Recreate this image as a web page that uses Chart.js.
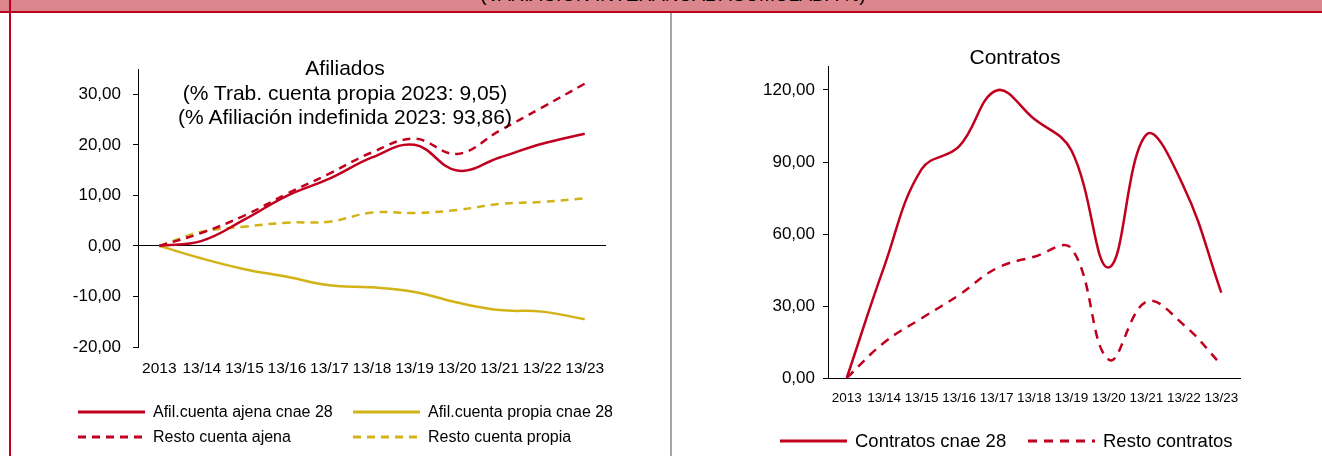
<!DOCTYPE html>
<html>
<head>
<meta charset="utf-8">
<script src="https://cdn.jsdelivr.net/npm/chart.js@4/dist/chart.umd.min.js"></script>
<style>
  html, body { margin: 0; padding: 0; background: #fff; }
  #page { position: relative; width: 1322px; height: 456px; overflow: hidden; background: #fff; font-family: "Liberation Sans", Arial, sans-serif; color: #000; }
  #band { position: absolute; left: 0; top: 0; width: 1322px; height: 11px; background: #DB868C; overflow: hidden; }
  #band span { position: absolute; left: 0; width: 1346px; top: -15px; text-align: center; font-size: 19px; line-height: 19px; }
  #bandLine { position: absolute; left: 0; top: 11px; width: 1322px; height: 2px; background: #B8001C; }
  #leftBorder { position: absolute; left: 9px; top: 0; width: 2px; height: 456px; background: #C0001E; }
  #divider { position: absolute; left: 670px; top: 13px; width: 2px; height: 443px; background: #A6A6A6; }
  canvas { position: absolute; }
  .title { position: absolute; text-align: center; font-size: 21px; line-height: 24.5px; }
  .item { position: absolute; white-space: nowrap; display: flex; align-items: center; }
  .item svg { margin-right: 8px; }
</style>
</head>
<body>
<div id="page">
  <div id="band"><span>(VARIACIÓN INTERANUAL ACUMULADA %)</span></div>
  <div id="bandLine"></div>
  <div id="leftBorder"></div>
  <div id="divider"></div>
  <canvas id="afiliadosChart" width="656" height="442" style="left:12px; top:14px;"></canvas>
  <canvas id="contratosChart" width="648" height="442" style="left:674px; top:14px;"></canvas>
  <div class="title" style="left:135px; top:56px; width:420px;">Afiliados<br>(% Trab. cuenta propia 2023: 9,05)<br>(% Afiliación indefinida 2023: 93,86)</div>
  <div class="title" style="left:915px; top:45px; width:200px;">Contratos</div>
  <div id="afilLegend"></div>
  <div id="contLegend"></div>
</div>
<script>
const years = ["2013", "13/14", "13/15", "13/16", "13/17", "13/18", "13/19", "13/20", "13/21", "13/22", "13/23"];

const afilAjena28 = [0, 1.0, 5.2, 9.9, 13.3, 17.5, 20.0, 14.9, 17.5, 20.2, 22.2];
const afilPropia28 = [0, -2.5, -4.6, -6.1, -7.8, -8.2, -9.1, -11.2, -12.7, -13.0, -14.5];
const restoAjena = [0, 2.6, 6.0, 10.3, 14.3, 18.5, 21.2, 18.2, 22.8, 27.4, 32.1];
const restoPropia = [0, 2.8, 3.8, 4.6, 4.8, 6.6, 6.5, 7.1, 8.3, 8.7, 9.4];

const contratos28 = [0, 46.4, 87.0, 96.5, 119.8, 108.0, 94.8, 46.1, 101.4, 79.6, 35.6];
const restoContratos = [0, 14.8, 24.9, 34.6, 45.7, 50.5, 54.0, 7.6, 31.8, 22.1, 5.5];

const afilYTicks = [-20, -10, 0, 10, 20, 30];
const contYTicks = [0, 30, 60, 90, 120];

const RED = "#C0001E";
const GOLD = "#D2B214";
const FONT = "'Liberation Sans', Arial, sans-serif";

function fmt(v) {
    return v.toFixed(2).replace(".", ",");
}

function lineSet(label, data, color, dash) {
    return {
        label: label,
        data: data,
        borderColor: color,
        backgroundColor: color,
        borderWidth: 2.5,
        borderDash: dash,
        pointRadius: 0,
        tension: 0.4,
        fill: false
    };
}

function buildLegend(el, datasets, places, fontSize, dash) {
    datasets.forEach((ds, i) => {
        const p = places[i];
        const item = document.createElement("div");
        item.className = "item";
        item.style.left = p[0] + "px";
        item.style.top = (p[1] - 10) + "px";
        item.style.fontSize = fontSize + "px";
        item.style.height = "20px";
        const d = ds.borderDash.length ? `stroke-dasharray="${dash}"` : "";
        item.innerHTML = `<svg width="67" height="6"><line x1="0" y1="3" x2="67" y2="3" stroke="${ds.borderColor}" stroke-width="3" ${d}/></svg><span>${ds.label}</span>`;
        el.appendChild(item);
    });
}

const afilSets = [
    lineSet("Afil.cuenta ajena cnae 28", afilAjena28, RED, []),
    lineSet("Afil.cuenta propia cnae 28", afilPropia28, GOLD, []),
    lineSet("Resto cuenta ajena", restoAjena, RED, [8, 6]),
    lineSet("Resto cuenta propia", restoPropia, GOLD, [8, 6])
];

const contSets = [
    lineSet("Contratos cnae 28", contratos28, RED, []),
    lineSet("Resto contratos", restoContratos, RED, [9, 7])
];

new Chart(document.getElementById("afiliadosChart").getContext("2d"), {
    type: "line",
    data: { labels: years, datasets: afilSets },
    options: {
        responsive: false,
        animation: false,
        devicePixelRatio: 1,
        layout: { padding: { top: 55, right: 62, bottom: 79, left: 0 } },
        plugins: { legend: { display: false }, tooltip: { enabled: false } },
        scales: {
            x: {
                offset: true,
                grid: { display: false, drawTicks: false },
                border: { display: false },
                ticks: { color: "#000", font: { family: FONT, size: 15.5 }, padding: 12, maxRotation: 0, autoSkip: false },
                afterFit: s => { s.height = 30; }
            },
            y: {
                min: -20,
                max: 35,
                afterBuildTicks: s => { s.ticks = afilYTicks.map(v => ({ value: v })); },
                grid: {
                    color: c => (c.tick && c.tick.value === 0 ? "#000" : "rgba(0,0,0,0)"),
                    tickColor: "#000",
                    tickLength: 5,
                    lineWidth: 1
                },
                border: { display: true, color: "#000", width: 1 },
                ticks: { color: "#000", font: { family: FONT, size: 17 }, padding: 12, callback: v => fmt(v) },
                afterFit: s => { s.width = 126; }
            }
        }
    }
});

new Chart(document.getElementById("contratosChart").getContext("2d"), {
    type: "line",
    data: { labels: years, datasets: contSets },
    options: {
        responsive: false,
        animation: false,
        devicePixelRatio: 1,
        layout: { padding: { top: 52, right: 82, bottom: 48, left: 0 } },
        plugins: { legend: { display: false }, tooltip: { enabled: false } },
        scales: {
            x: {
                offset: true,
                grid: { display: false, drawTicks: false },
                border: { display: true, color: "#000", width: 1 },
                ticks: { color: "#000", font: { family: FONT, size: 13.5 }, padding: 12, maxRotation: 0, autoSkip: false },
                afterFit: s => { s.height = 30; }
            },
            y: {
                min: 0,
                max: 130,
                afterBuildTicks: s => { s.ticks = contYTicks.map(v => ({ value: v })); },
                grid: { drawOnChartArea: false, tickColor: "#000", tickLength: 5 },
                border: { display: true, color: "#000", width: 1 },
                ticks: { color: "#000", font: { family: FONT, size: 17 }, padding: 8, callback: v => fmt(v) },
                afterFit: s => { s.width = 154; }
            }
        }
    }
});

buildLegend(document.getElementById("afilLegend"), afilSets,
    [[78, 412], [353, 412], [78, 437], [353, 437]], 16, "8 6");
buildLegend(document.getElementById("contLegend"), contSets,
    [[780, 441], [1028, 441]], 18.5, "9 7");
</script>
</body>
</html>
